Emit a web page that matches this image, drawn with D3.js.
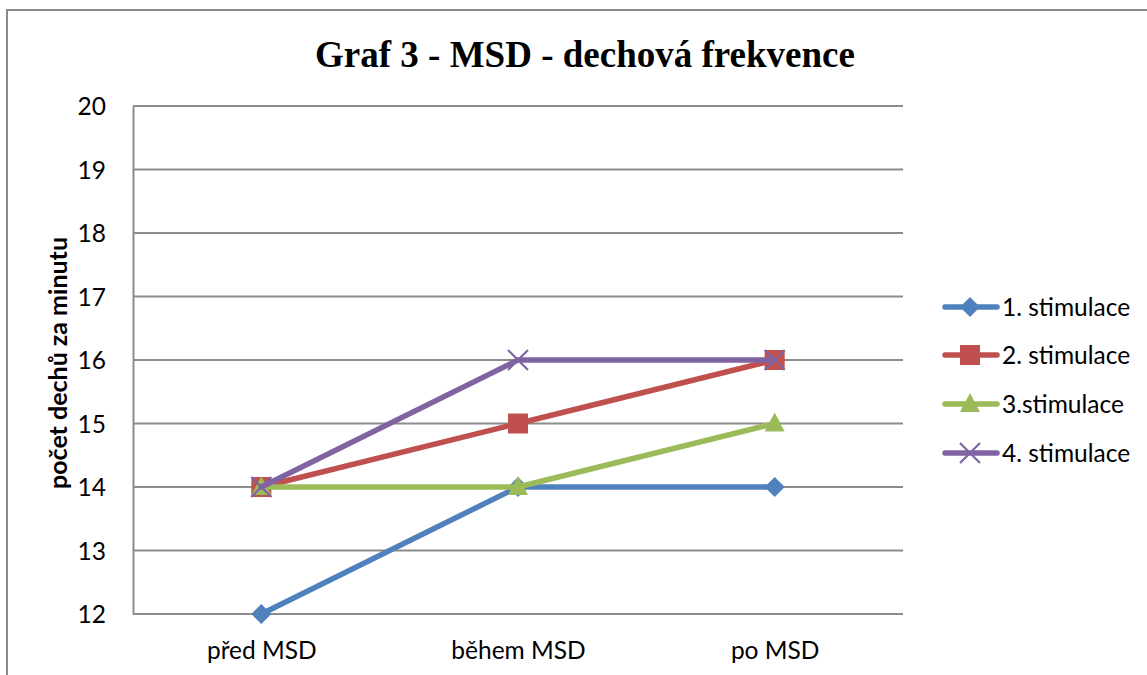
<!DOCTYPE html>
<html><head><meta charset="utf-8">
<script src="https://cdn.jsdelivr.net/npm/d3@7"></script>
<style>body{margin:0;background:#fff}svg{display:block}</style>
</head><body><svg id="c" width="1147" height="675"></svg>
<script>
const categories = ["před MSD", "během MSD", "po MSD"];
const seriesNames = ["1. stimulace", "2. stimulace", "3.stimulace", "4. stimulace"];
const s1 = [12, 14, 14];
const s2 = [14, 15, 16];
const s3 = [14, 14, 15];
const s4 = [14, 16, 16];
const yTicks = [12, 13, 14, 15, 16, 17, 18, 19, 20];
const colors = ["#4F81BD", "#C0504D", "#9BBB59", "#8064A2"];
const markers = ["diamond", "square", "triangle", "x"];
const title = "Graf 3 - MSD - dechová frekvence";
const yTitle = "počet dechů za minutu";

const series = [s1, s2, s3, s4].map((v, i) => ({name: seriesNames[i], values: v, color: colors[i], marker: markers[i]}));

const svg = d3.select("#c");
const L = 133, R = 903, T = 106, B = 614;
const x = d3.scalePoint().domain(categories).range([L, R]).padding(0.5);
const y = d3.scaleLinear().domain([12, 20]).range([B, T]);
const font = "Lato, 'Open Sans', sans-serif";
const fs = 24.5;

// outer border
svg.append("rect").attr("x", 7).attr("y", 10).attr("width", 1160).attr("height", 700)
  .attr("fill", "none").attr("stroke", "#8a8a8a").attr("stroke-width", 2);

// title
svg.append("text").attr("x", 585).attr("y", 67).attr("text-anchor", "middle")
  .attr("font-family", "'Liberation Serif', 'Times New Roman', serif").attr("font-weight", "bold")
  .attr("font-size", 37).text(title);

// gridlines
svg.append("g").selectAll("line").data(yTicks).join("line")
  .attr("x1", L).attr("x2", R).attr("y1", d => y(d)).attr("y2", d => y(d))
  .attr("stroke", "#8c8c8c").attr("stroke-width", 2);

// y axis
const yAxis = svg.append("g").attr("transform", `translate(${L},0)`)
  .call(d3.axisLeft(y).tickValues(yTicks).tickSize(0).tickPadding(27).tickFormat(d3.format("d")));
yAxis.select(".domain").attr("stroke", "#8c8c8c").attr("stroke-width", 2);
yAxis.selectAll("text").attr("font-family", font).attr("font-size", fs).attr("fill", "#000").attr("dy", "0.36em");

// x axis
const xAxis = svg.append("g").attr("transform", `translate(0,${B})`)
  .call(d3.axisBottom(x).tickSize(0).tickPadding(28));
xAxis.select(".domain").remove();
xAxis.selectAll("text").attr("font-family", font).attr("font-size", fs).attr("fill", "#000");

// y title
svg.append("text").attr("transform", `translate(67,${(T + B) / 2 + 3}) rotate(-90)`)
  .attr("text-anchor", "middle").attr("font-family", font).attr("font-weight", "bold")
  .attr("font-size", 25).text(yTitle);

function drawMarker(g, type, color, cx, cy) {
  if (type === "diamond") {
    g.append("path").attr("d", `M${cx},${cy - 10}L${cx + 10},${cy}L${cx},${cy + 10}L${cx - 10},${cy}Z`)
      .attr("fill", color);
  } else if (type === "square") {
    g.append("rect").attr("x", cx - 10).attr("y", cy - 10).attr("width", 20).attr("height", 20).attr("fill", color);
  } else if (type === "triangle") {
    g.append("path").attr("d", `M${cx},${cy - 11}L${cx + 10},${cy + 8}L${cx - 10},${cy + 8}Z`).attr("fill", color);
  } else {
    g.append("path").attr("d", `M${cx - 10},${cy - 10}L${cx + 10},${cy + 10}M${cx + 10},${cy - 10}L${cx - 10},${cy + 10}`)
      .attr("stroke", color).attr("stroke-width", 2.2).attr("fill", "none");
  }
}

const line = d3.line().x((d, i) => x(categories[i])).y(d => y(d));
series.forEach(s => {
  const g = svg.append("g");
  g.append("path").datum(s.values).attr("d", line).attr("fill", "none")
    .attr("stroke", s.color).attr("stroke-width", 5.5).attr("stroke-linejoin", "round").attr("stroke-linecap", "round");
  s.values.forEach((v, i) => drawMarker(g, s.marker, s.color, x(categories[i]), y(v)));
});

// legend
const legY = [307, 355, 404, 453];
series.forEach((s, i) => {
  const g = svg.append("g");
  g.append("line").attr("x1", 945).attr("x2", 997).attr("y1", legY[i]).attr("y2", legY[i])
    .attr("stroke", s.color).attr("stroke-width", 5.5).attr("stroke-linecap", "round");
  drawMarker(g, s.marker, s.color, 970, legY[i]);
  g.append("text").attr("x", 1002).attr("y", legY[i]).attr("dy", "0.36em")
    .attr("font-family", font).attr("font-size", fs).text(s.name);
});
</script></body></html>
